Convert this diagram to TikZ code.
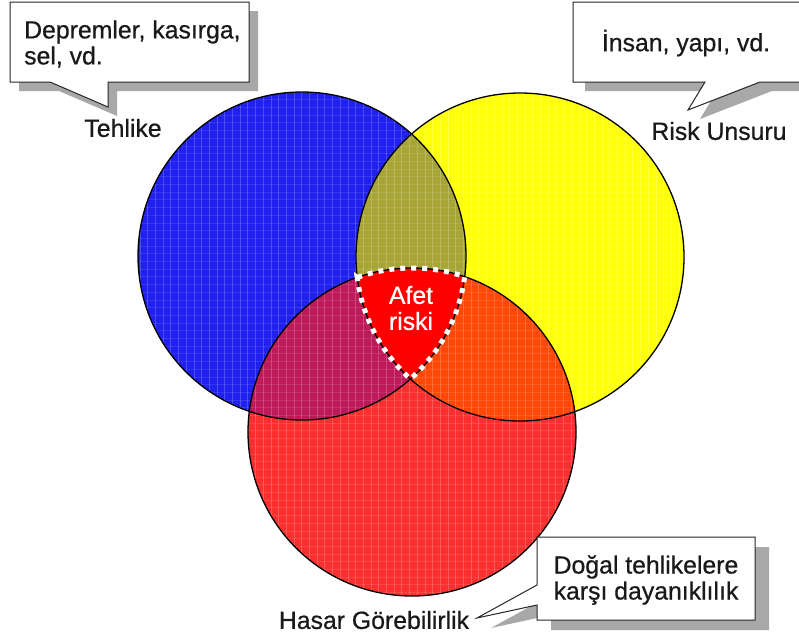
\documentclass[tikz,border=0pt]{standalone}
\usepackage{fontspec}
\setmainfont{Liberation Sans}[FakeBold=0.6]
\definecolor{cblue}{RGB}{32,32,240}
\definecolor{cyellow}{RGB}{255,255,10}
\definecolor{cred}{RGB}{250,48,48}
\definecolor{cby}{RGB}{168,165,55}
\definecolor{cbr}{RGB}{190,25,88}
\definecolor{cyr}{RGB}{255,72,8}
\definecolor{ctri}{RGB}{255,0,0}
\definecolor{shadowgray}{RGB}{168,168,168}
\tikzset{
  calloutbox/.style={draw=black!85, fill=white, line width=1pt},
  calloutshadow/.style={fill=shadowgray},
  lbl/.style={inner sep=0pt, text=black!90},
  ring/.style={draw=black, line width=1.3pt},
  texture/.style={white, opacity=0.2, line width=0.8pt}
}
\begin{document}
\begin{tikzpicture}[x=1pt,y=-1pt, font=\fontsize{24.8}{26}\selectfont]
\useasboundingbox (0,0) rectangle (799,637);
\clip (0,0) rectangle (799,637);
\coordinate (B) at (302,256);
\coordinate (Y) at (520,257);
\coordinate (R) at (412,432);
% base fills
\fill[cblue] (B) circle[radius=164];
\fill[cyellow] (Y) circle[radius=164];
\fill[cred] (R) circle[radius=164];
% pairwise overlaps
\begin{scope}
  \clip (B) circle[radius=164];
  \fill[cby] (Y) circle[radius=164];
  \fill[cbr] (R) circle[radius=164];
\end{scope}
\begin{scope}
  \clip (Y) circle[radius=164];
  \fill[cyr] (R) circle[radius=164];
\end{scope}
% texture
\begin{scope}
  \clip (B) circle[radius=164] (Y) circle[radius=164] (R) circle[radius=164];
  \foreach \x in {140,147.7,...,690} \draw[texture] (\x,85) -- (\x,600);
  \foreach \y in {92,99.7,...,600} \draw[texture, opacity=0.1] (130,\y) -- (690,\y);
\end{scope}
% triple region
\begin{scope}
  \clip (B) circle[radius=164];
  \clip (Y) circle[radius=164];
  \fill[ctri] (R) circle[radius=164];
\end{scope}
% outlines
\draw[ring] (B) circle[radius=164];
\draw[ring] (Y) circle[radius=164];
\draw[ring] (R) circle[radius=164];
% dotted border of the risk region
\draw[white, line width=5pt, dash pattern=on 5pt off 6pt]
  (357.3,277.4) arc[start angle=-109.5, end angle=-71.3, radius=164]
  arc[start angle=7.25, end angle=48.6, radius=164]
  arc[start angle=131.9, end angle=172.85, radius=164] -- cycle;
\node[lbl, text=white, align=center] (afet) at (411,308) {Afet\\riski};

% callout 1
\fill[calloutshadow, shift={(9,9)}] (10,2) -- (249,2) -- (249,82) -- (108,82) -- (108,107) -- (50,82) -- (10,82) -- cycle;
\draw[calloutbox] (10,2) -- (249,2) -- (249,82) -- (108,82) -- (108,107) -- (50,82) -- (10,82) -- cycle;
\node[lbl, anchor=west, align=left] (t1) at (24,44) {Depremler, kasırga,\\sel, vd.};
\node[lbl] (l1) at (123,128) {Tehlike};

% callout 2
\fill[calloutshadow, shift={(12,9)}] (573,2) -- (815,2) -- (815,82) -- (760,82) -- (688,110) -- (705,82) -- (573,82) -- cycle;
\draw[calloutbox] (573,2) -- (815,2) -- (815,82) -- (760,82) -- (688,110) -- (705,82) -- (573,82) -- cycle;
\node[lbl] (t2) at (686,43) {İnsan, yapı, vd.};
\node[lbl] (l2) at (719,131) {Risk Unsuru};

% callout 3
\fill[calloutshadow, shift={(14,10)}] (537,537) -- (755,537) -- (755,620) -- (537,620) -- (537,605) -- (477,618) -- (537,585) -- cycle;
\draw[calloutbox] (537,537) -- (755,537) -- (755,620) -- (537,620) -- (537,605) -- (477,618) -- (537,585) -- cycle;
\node[lbl, align=center] (t3) at (646,580) {Doğal tehlikelere\\karşı dayanıklılık};
\node[lbl] (l3) at (374,620) {Hasar Görebilirlik};
\end{tikzpicture}
\end{document}
